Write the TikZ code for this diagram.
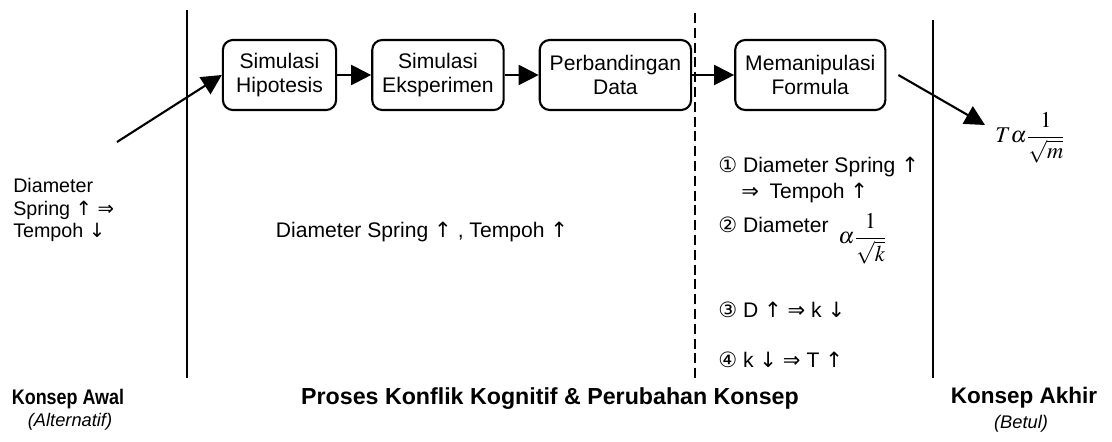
\documentclass[tikz,border=0pt]{standalone}
\usepackage{mathptmx}
\usepackage{fontspec}
\setmainfont{Liberation Sans}
\newfontfamily\symfont{DejaVu Sans}
\newfontfamily\narrowfont[FakeStretch=0.85]{Liberation Sans}
\usetikzlibrary{arrows.meta,positioning}
\newcommand{\symup}{{\symfont ↑}}
\newcommand{\symdown}{{\symfont ↓}}
\newcommand{\symimp}{{\symfont ⇒}}
\newcommand{\fsize}[2]{\fontsize{#1}{#2}\selectfont}
\begin{document}
\begin{tikzpicture}[x=0.025cm,y=-0.025cm,
  stage/.style={draw,line width=1.5pt,rounded corners=0.25cm,align=center,inner xsep=0.25cm,minimum height=1.75cm,font=\fsize{15}{17.5}},
  arr/.style={line width=1.5pt,-{Triangle[length=0.5cm,width=0.5cm]}},
  divider/.style={line width=1.5pt},
  txt/.style={inner sep=0pt,font=\fsize{15}{18}},
  head/.style={font=\bfseries\fsize{16}{19}},
  sub/.style={font=\itshape\fsize{13}{15}},
  node distance=0.85cm]
\useasboundingbox (0,0) rectangle (1112,441);

\draw[divider] (187,10) -- (187,378);
\draw[divider,dash pattern=on 0.25cm off 0.12cm] (695,13) -- (695,380);
\draw[divider] (933,20) -- (933,378);

\node[stage,minimum width=2.83cm] (hip) at (279.5,75) {Simulasi\\Hipotesis};
\node[stage,right=of hip] (eks) {Simulasi\\Eksperimen};
\node[stage,right=of eks] (perb) {Perbandingan\\Data};
\node[stage,right=1.05cm of perb] (mem) {Memanipulasi\\Formula};
\draw[arr] (hip) -- (eks);
\draw[arr] (eks) -- (perb);
\draw[arr] (perb) -- (mem);

\node[txt,font=\fsize{14}{16},align=left,anchor=west] (awal) at (13,210) {Diameter\\Spring \symup\ \symimp\\Tempoh \symdown};
\coordinate (awaltail) at (117,142);
\draw[arr] (awaltail) -- (hip.west);

\node[txt] (proses) at (422,232) {Diameter Spring \symup\ , Tempoh \symup};

\node[txt,anchor=west] (langkah1) at (718,167) {{\symfont ①} Diameter Spring \symup};
\node[txt,anchor=west] (langkah1b) at (741,193) {\symimp\enspace Tempoh \symup};
\node[txt,anchor=west] (langkah2) at (718,225) {{\symfont ②} Diameter};
\node[txt,anchor=west,font=\fsize{16}{18}] (rumusk) at (838,239) {$\alpha\displaystyle\frac{1}{\sqrt{k}}$};
\node[txt,anchor=west] (langkah3) at (718,310) {{\symfont ③} D \symup\ \symimp\ k \symdown};
\node[txt,anchor=west] (langkah4) at (718,360) {{\symfont ④} k \symdown\ \symimp\ T \symup};

\node[txt,anchor=west,font=\fsize{16}{18}] (akhir) at (995,138) {$T\alpha\displaystyle\frac{1}{\sqrt{m}}$};
\coordinate (akhirtip) at (985,125);
\draw[arr] ([xshift=0.3cm]mem.east) -- (akhirtip);

\node[head,font=\narrowfont\bfseries\fsize{15}{18}] (awalT) at (68,399) {Konsep Awal};
\node[sub] (alternatif) at (70,422) {(Alternatif)};
\node[head,font=\bfseries\fsize{16.5}{19}] (prosesT) at (550,399) {Proses Konflik Kognitif \& Perubahan Konsep};
\node[head] (akhirT) at (1024,398) {Konsep Akhir};
\node[sub] (betul) at (1021,424) {(Betul)};
\end{tikzpicture}
\end{document}
